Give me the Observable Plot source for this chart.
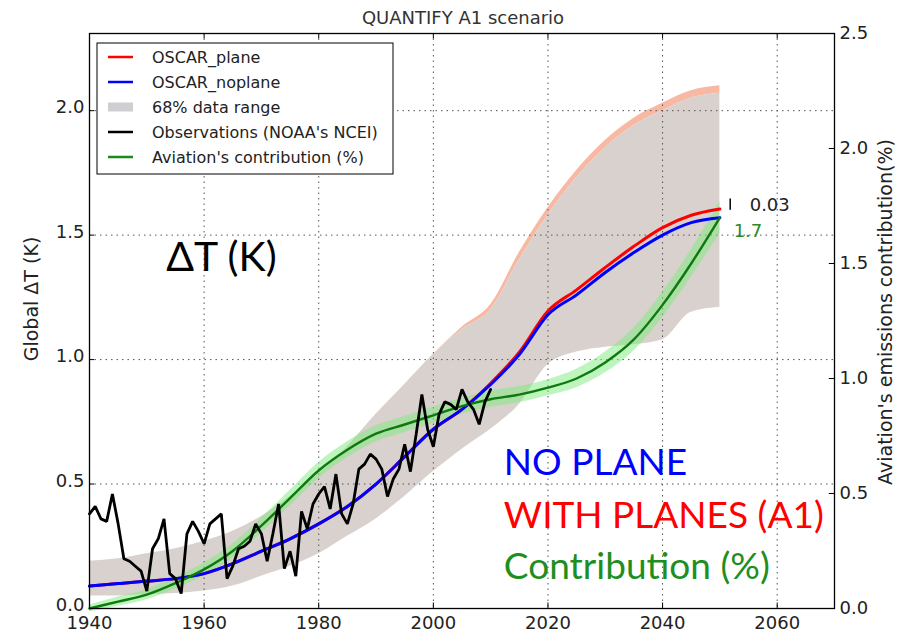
<!DOCTYPE html>
<html>
<head>
<meta charset="utf-8">
<script src="https://cdn.jsdelivr.net/npm/d3@7"></script>
<script src="https://cdn.jsdelivr.net/npm/@observablehq/plot@0.6"></script>
<style>
  body { margin: 0; background: #fff; }
  #chart { position: relative; width: 904px; height: 640px; }
</style>
</head>
<body>
<div id="chart"></div>
<script>
// ---------------- DATA ----------------
const years5 = [1940,1945,1950,1955,1960,1965,1970,1975,1980,1985,1990,1995,2000,2005,2010,2015,2020,2025,2030,2035,2040,2045,2050];
// Global ΔT (K), left axis
const noPlane    = [0.09,0.10,0.11,0.12,0.14,0.18,0.23,0.28,0.34,0.41,0.50,0.61,0.72,0.80,0.90,1.02,1.18,1.26,1.35,1.43,1.50,1.55,1.57];
const withPlanes = [0.09,0.10,0.11,0.12,0.14,0.18,0.23,0.28,0.34,0.41,0.50,0.61,0.72,0.80,0.905,1.03,1.195,1.28,1.37,1.455,1.53,1.58,1.605];
// 68% data range (left axis)
const bandLow    = [0.05,0.05,0.055,0.06,0.07,0.09,0.13,0.17,0.22,0.29,0.36,0.45,0.55,0.64,0.72,0.82,0.98,1.03,1.05,1.06,1.08,1.19,1.21];
const bandHigh   = [0.19,0.20,0.22,0.24,0.27,0.31,0.37,0.45,0.54,0.65,0.78,0.90,1.02,1.12,1.20,1.40,1.58,1.73,1.85,1.94,2.00,2.05,2.07];
const bandHighRed= [0.19,0.20,0.22,0.24,0.27,0.31,0.37,0.45,0.54,0.65,0.78,0.90,1.02,1.13,1.22,1.43,1.61,1.76,1.88,1.97,2.03,2.08,2.10];
// Aviation's contribution (%), right axis
const contribution = [0.00,0.03,0.06,0.11,0.17,0.25,0.36,0.48,0.60,0.69,0.76,0.80,0.84,0.88,0.91,0.93,0.96,1.00,1.07,1.17,1.32,1.50,1.70];
const contribHalf  = [0.015,0.02,0.022,0.025,0.028,0.03,0.032,0.034,0.035,0.035,0.035,0.035,0.035,0.035,0.035,0.035,0.035,0.04,0.045,0.05,0.055,0.06,0.07];
// Observations (NOAA's NCEI), annual 1940-2010
const obsStart = 1940;
const obsValues = [0.38,0.41,0.36,0.35,0.46,0.34,0.20,0.19,0.17,0.15,
                   0.07,0.24,0.28,0.36,0.14,0.12,0.06,0.30,0.35,0.31,
                   0.26,0.34,0.36,0.38,0.12,0.17,0.24,0.25,0.27,0.34,
                   0.30,0.19,0.30,0.42,0.16,0.23,0.13,0.39,0.32,0.42,
                   0.46,0.49,0.40,0.54,0.38,0.34,0.42,0.56,0.58,0.62,
                   0.60,0.56,0.45,0.52,0.56,0.66,0.55,0.70,0.86,0.72,
                   0.65,0.78,0.83,0.82,0.80,0.88,0.83,0.80,0.74,0.83,0.88];
// axes
const xTicks = [1940,1960,1980,2000,2020,2040,2060];
const xGrid = [1960,1980,2000,2020,2040,2060];
const leftTicks = [0.0,0.5,1.0,1.5,2.0];
const rightTicks = [0.0,0.5,1.0,1.5,2.0,2.5];
const legendLabels = ["OSCAR_plane","OSCAR_noplane","68% data range","Observations (NOAA's NCEI)","Aviation's contribution (%)"];

// ---------------- BUILD ----------------
const yMax = 2.31, rightMax = 2.5, k = yMax / rightMax;
const modelRows = years5.map((yr, i) => ({
  year: yr, noPlane: noPlane[i], withPlanes: withPlanes[i],
  lo: bandLow[i], hi: bandHigh[i], hiRed: bandHighRed[i],
  c: contribution[i] * k, cLo: (contribution[i] - contribHalf[i]) * k, cHi: (contribution[i] + contribHalf[i]) * k
}));
const obsRows = obsValues.map((v, i) => ({year: obsStart + i, v}));

const W = 904, H = 640;
const plot = Plot.plot({
  width: W, height: H,
  marginLeft: 89, marginRight: 70, marginTop: 33, marginBottom: 32,
  style: {fontFamily: "DejaVu Sans", fontSize: "18px", color: "#222", background: "#fff"},
  x: {domain: [1940, 2070]},
  y: {domain: [0, yMax]},
  marks: [
    // band
    Plot.areaY(modelRows.filter(d => d.year >= 2000), {x: "year", y1: "hi", y2: "hiRed", fill: "#f7b9a3", curve: "monotone-x"}),
    Plot.areaY(modelRows, {x: "year", y1: "lo", y2: "hi", fill: "#d9d1cd", curve: "monotone-x"}),
    // grid
    Plot.ruleX(xGrid, {stroke: "#555", strokeDasharray: "1.5,4", strokeWidth: 1}),
    Plot.ruleY(leftTicks.filter(d => d > 0), {stroke: "#555", strokeDasharray: "1.5,4", strokeWidth: 1}),
    // green band
    Plot.areaY(modelRows, {x: "year", y1: "cLo", y2: "cHi", fill: "#7deb7d", fillOpacity: 0.5, curve: "monotone-x"}),
    // model lines
    Plot.line(modelRows, {x: "year", y: "withPlanes", stroke: "#ff0000", strokeWidth: 3, curve: "monotone-x"}),
    Plot.line(modelRows, {x: "year", y: "noPlane", stroke: "#0000ff", strokeWidth: 3, curve: "monotone-x"}),
    Plot.line(modelRows, {x: "year", y: "c", stroke: "#0c7a0c", strokeWidth: 2.4, curve: "monotone-x"}),
    // observations
    Plot.line(obsRows, {x: "year", y: "v", stroke: "#000", strokeWidth: 2.8, strokeLinejoin: "miter"}),
    // end annotations
    Plot.ruleX([2051.8], {y1: 1.60, y2: 1.645, stroke: "#000", strokeWidth: 1.5}),
    Plot.text(["0.03"], {x: 2055.2, y: 1.62, textAnchor: "start", fill: "#222", fontSize: 18}),
    Plot.text(["1.7"], {x: 2052.4, y: 1.515, textAnchor: "start", fill: "#2a8a2a", fontSize: 18}),
    // big annotations
    Plot.text(["ΔT (K)"], {x: 1953.4, y: 1.41, textAnchor: "start", fill: "#000", fontSize: 41, fontFamily: "Lato"}),
    Plot.text(["NO PLANE"], {x: 2012.3, y: 0.583, textAnchor: "start", fill: "#0000ff", fontSize: 37, fontFamily: "Lato"}),
    Plot.text(["WITH PLANES (A1)"], {x: 2012.3, y: 0.37, textAnchor: "start", fill: "#ff0000", fontSize: 37, fontFamily: "Lato"}),
    Plot.text(["Contribution (%)"], {x: 2012.3, y: 0.165, textAnchor: "start", fill: "#1e8f1e", fontSize: 37, fontFamily: "Lato"}),
    // inward ticks
    Plot.ruleX(xTicks, {y1: 0, y2: 0.022, stroke: "#000"}),
    Plot.ruleX(xTicks, {y1: yMax - 0.022, y2: yMax, stroke: "#000"}),
    Plot.ruleY(leftTicks, {x1: 1940, x2: 1940.9, stroke: "#000"}),
    Plot.ruleY(rightTicks.map(t => t * k), {x1: 2069.1, x2: 2070, stroke: "#000"}),
    // axes
    Plot.axisX({ticks: xTicks, tickFormat: d => String(d), tickSize: 0, tickPadding: 8, label: null}),
    Plot.axisY({anchor: "left", ticks: leftTicks, tickFormat: d => d.toFixed(1), tickSize: 0, tickPadding: 5, dy: -3, label: null}),
    Plot.axisY({anchor: "right", ticks: rightTicks.map(t => t * k), tickFormat: d => (d / k).toFixed(1), tickSize: 0, tickPadding: 5, label: null}),
    Plot.frame({stroke: "#000", strokeWidth: 1.3})
  ]
});

document.getElementById("chart").appendChild(plot);
const svg = d3.select(plot);

// title and axis labels
svg.append("text").attr("x", 463).attr("y", 17).attr("text-anchor", "middle").attr("dominant-baseline", "central")
  .attr("font-family", "DejaVu Sans").attr("font-size", 18).attr("fill", "#333").text("QUANTIFY A1 scenario");
svg.append("text").attr("transform", "translate(31,299) rotate(-90)").attr("text-anchor", "middle").attr("dominant-baseline", "central")
  .attr("font-family", "DejaVu Sans").attr("font-size", 19).attr("fill", "#222").text("Global ΔT (K)");
svg.append("text").attr("transform", "translate(885,312) rotate(-90)").attr("text-anchor", "middle").attr("dominant-baseline", "central")
  .attr("font-family", "DejaVu Sans").attr("font-size", 19).attr("fill", "#222").text("Aviation's emissions contribution(%)");

// legend
const lg = svg.append("g").attr("text-anchor", "start");
lg.append("rect").attr("x", 97).attr("y", 43).attr("width", 296).attr("height", 131).attr("fill", "#fff").attr("stroke", "#000").attr("stroke-width", 1);
const legendStyles = [
  {stroke: "#ff0000", w: 2.5},
  {stroke: "#0000ff", w: 2.5},
  {stroke: "#cfcfd3", w: 9},
  {stroke: "#000", w: 2.5},
  {stroke: "#1a8a1a", w: 2.5}
];
legendLabels.forEach((lab, i) => {
  const y = 57 + i * 25;
  lg.append("line").attr("x1", 108).attr("x2", 133).attr("y1", y).attr("y2", y)
    .attr("stroke", legendStyles[i].stroke).attr("stroke-width", legendStyles[i].w);
  lg.append("text").attr("x", 152).attr("y", y).attr("text-anchor", "start").attr("dominant-baseline", "central")
    .attr("font-family", "DejaVu Sans").attr("font-size", 16).attr("fill", "#222").text(lab);
});
</script>
</body>
</html>
